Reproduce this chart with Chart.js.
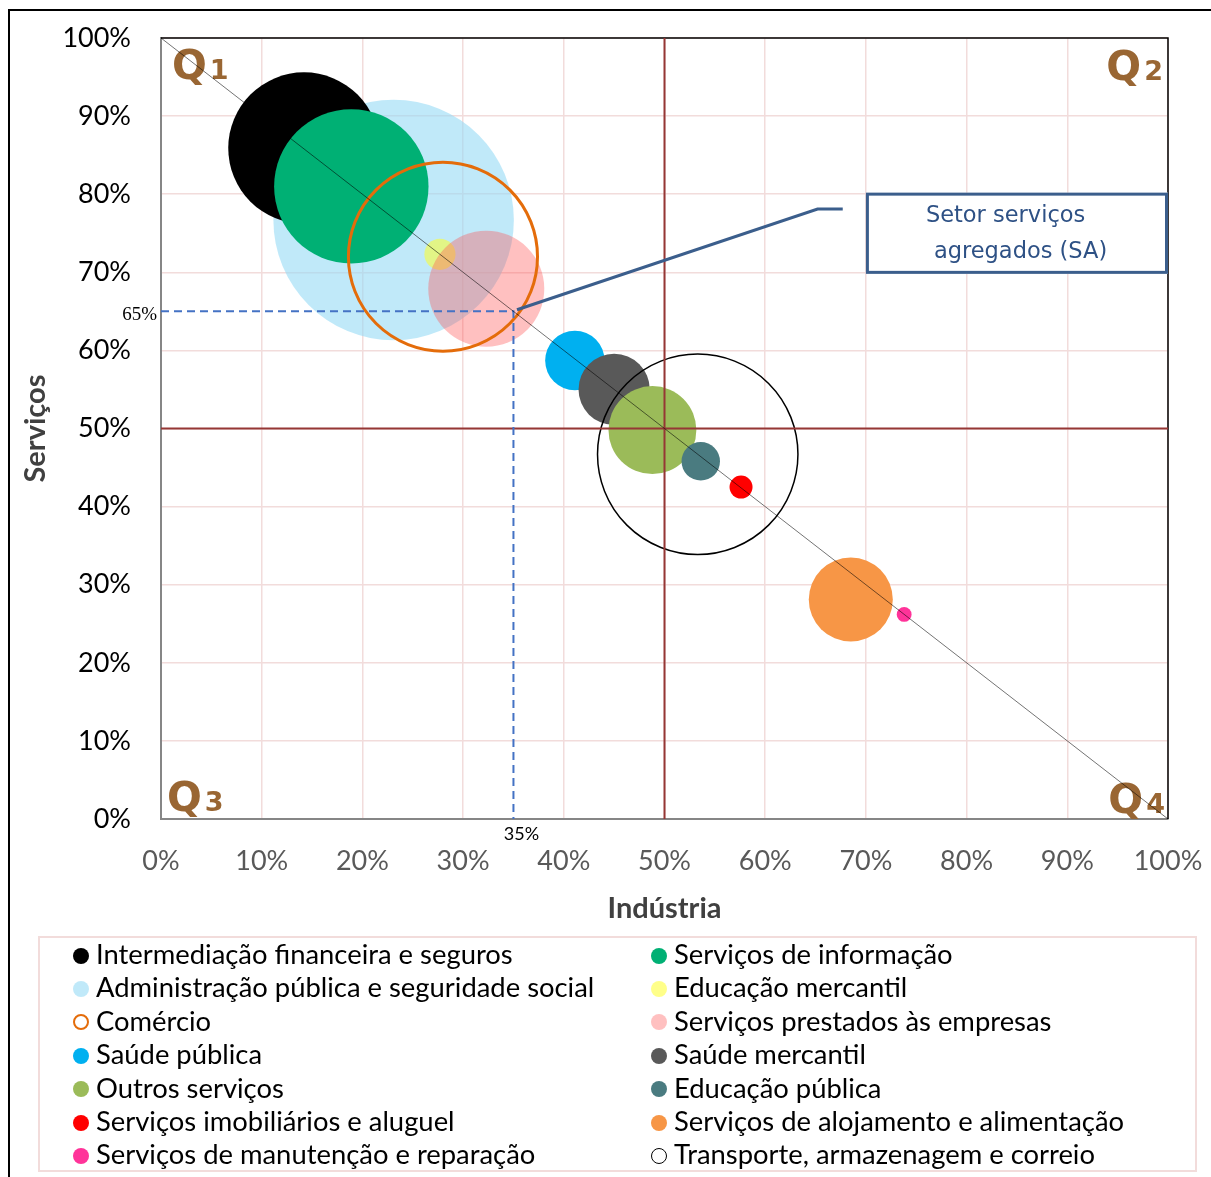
<!DOCTYPE html>
<html lang="pt-BR">
<head>
<meta charset="utf-8">
<title>Setores de serviços: Indústria x Serviços</title>
<script src="https://cdn.jsdelivr.net/npm/chart.js@4.4.1/dist/chart.umd.min.js"></script>
<style>
  html, body { margin: 0; padding: 0; background: #fff; }
  #quadro { position: relative; width: 1211px; height: 1177px; overflow: hidden; font-family: Lato, sans-serif; }
  #moldura { position: absolute; left: 8px; top: 9px; width: 1300px; height: 1300px; border-left: 2px solid #000; border-top: 2px solid #000; }
  #grafico { position: absolute; left: 0; top: 0; }
  #legenda { position: absolute; left: 38px; top: 936px; width: 1155px; height: 232px; border: 2px solid #f2dcdb; }
  .item { position: absolute; height: 30px; line-height: 30px; font-size: 27.4px; color: #000; white-space: nowrap; }
  .marca { display: inline-block; width: 16px; height: 16px; border-radius: 50%; vertical-align: middle; margin-right: 7px; margin-top: -3px; box-sizing: border-box; }
</style>
</head>
<body>
<div id="quadro">
  <div id="moldura"></div>
  <canvas id="grafico" width="1211" height="1177"></canvas>
  <div id="legenda"></div>
</div>
<script>
const setores = [
  'Intermediação financeira e seguros',
  'Serviços de informação',
  'Administração pública e seguridade social',
  'Educação mercantil',
  'Comércio',
  'Serviços prestados às empresas',
  'Saúde pública',
  'Saúde mercantil',
  'Outros serviços',
  'Educação pública',
  'Serviços imobiliários e aluguel',
  'Serviços de alojamento e alimentação',
  'Serviços de manutenção e reparação',
  'Transporte, armazenagem e correio'
];
// participação (%) de cada setor na indústria e nos serviços
const industria = [14.2, 18.9, 23.1, 27.7, 28.0, 32.3, 41.1, 45.0, 48.8, 53.6, 57.6, 68.5, 73.8, 53.3];
const servicos = [85.9, 81.0, 76.7, 72.3, 72.0, 67.9, 58.7, 55.0, 49.8, 45.8, 42.5, 28.1, 26.2, 46.7];
// tamanho da bolha (peso do setor, %)
const peso = [10.4, 10.8, 26.2, 0.44, 16.2, 6.1, 1.6, 2.3, 3.5, 0.67, 0.24, 3.2, 0.10, 18.2];

const eixoTicks = [0, 10, 20, 30, 40, 50, 60, 70, 80, 90, 100];
const diagonalX = [0, 100];
const diagonalY = [100, 0];
const divisaoVX = [50, 50];
const divisaoVY = [0, 100];
const divisaoHX = [0, 100];
const divisaoHY = [50, 50];
const guiaX = [0, 35, 35];
const guiaY = [65, 65, 0];
const saIndustria = 35;
const saServicos = 65;

const cores = ['#000000', '#00B074', 'rgba(150,218,245,0.6)', 'rgba(255,255,40,0.55)', 'rgba(255,255,255,0)',
  'rgba(255,80,80,0.36)', '#00B0F0', '#595959', '#9BBB59', '#4A7B80', '#FF0000', '#F79646', '#FF3399', 'rgba(255,255,255,0)'];
const contornos = [null, null, null, null, '#E46C0A', null, null, null, null, null, null, null, null, '#000000'];
const espessuras = [0, 0, 0, 0, 3, 0, 0, 0, 0, 0, 0, 0, 0, 1.5];
// camada de desenho (maior = por cima)
const camadas = [2, 3, 1, 4, 6, 5, 7, 8, 9, 10, 11, 12, 13, 14];

const PX_POR_RAIZ = 23.49;
const FONTE = 'Lato, sans-serif';

const pontos = (xs, ys) => xs.map((x, i) => ({ x, y: ys[i] }));

const bolhas = setores.map((nome, i) => ({
  label: nome,
  data: [{ x: industria[i], y: servicos[i], r: Math.sqrt(peso[i]) * PX_POR_RAIZ }],
  backgroundColor: cores[i],
  borderColor: contornos[i] || cores[i],
  borderWidth: espessuras[i],
  order: 100 - camadas[i]
}));

function linha(label, xs, ys, cor, largura, ordem, tracejado) {
  return {
    type: 'line', label, data: pontos(xs, ys),
    borderColor: cor, borderWidth: largura, borderDash: tracejado || [],
    pointRadius: 0, fill: false, tension: 0, order: ordem
  };
}

const anotacoes = {
  id: 'anotacoes',
  beforeDatasetsDraw(chart) {
    const { ctx, chartArea: a } = chart;
    ctx.save();
    // moldura superior e direita da área do gráfico
    ctx.strokeStyle = '#000';
    ctx.lineWidth = 1.5;
    ctx.beginPath();
    ctx.moveTo(a.left, a.top);
    ctx.lineTo(a.right, a.top);
    ctx.lineTo(a.right, a.bottom);
    ctx.stroke();

    // rótulos dos quadrantes
    const desenhaQ = (num, x, base, direita) => {
      ctx.font = 'bold 41px "DejaVu Sans"';
      const wq = ctx.measureText('Q').width;
      ctx.font = 'bold 27px "DejaVu Sans"';
      const wn = ctx.measureText(num).width;
      const x0 = direita ? x - wn - 3 - wq : x;
      ctx.fillStyle = '#996633';
      ctx.textBaseline = 'alphabetic';
      ctx.textAlign = 'left';
      ctx.font = 'bold 41px "DejaVu Sans"';
      ctx.fillText('Q', x0, base);
      ctx.font = 'bold 27px "DejaVu Sans"';
      ctx.fillText(num, x0 + wq + 3, base);
    };
    desenhaQ('1', a.left + 11, a.top + 41, false);
    desenhaQ('2', a.right - 5, a.top + 42, true);
    desenhaQ('3', a.left + 6, a.bottom - 8, false);
    desenhaQ('4', a.right - 3, a.bottom - 6, true);
    ctx.restore();
  },
  afterDatasetsDraw(chart) {
    const { ctx, chartArea: a, scales: { x, y } } = chart;
    ctx.save();
    // rótulos 65% e 35%
    ctx.fillStyle = '#000';
    ctx.font = '19px "Liberation Serif"';
    ctx.textAlign = 'right';
    ctx.textBaseline = 'middle';
    ctx.fillText(saServicos + '%', a.left - 4, y.getPixelForValue(saServicos) + 3.5);
    ctx.font = '18px ' + FONTE;
    ctx.textAlign = 'center';
    ctx.fillText(saIndustria + '%', x.getPixelForValue(saIndustria) + 8, a.bottom + 15.5);

    // chamada "Setor serviços agregados (SA)"
    const azul = '#3B5E8C';
    ctx.strokeStyle = azul;
    ctx.lineWidth = 3;
    ctx.lineJoin = 'miter';
    ctx.beginPath();
    ctx.moveTo(x.getPixelForValue(67.7), y.getPixelForValue(78.1));
    ctx.lineTo(x.getPixelForValue(65.2), y.getPixelForValue(78.1));
    ctx.lineTo(x.getPixelForValue(saIndustria + 0.35), y.getPixelForValue(saServicos + 0.2));
    ctx.stroke();

    const bx0 = x.getPixelForValue(70), bx1 = x.getPixelForValue(100);
    const by0 = y.getPixelForValue(80.2), by1 = y.getPixelForValue(69.8);
    ctx.fillStyle = '#fff';
    ctx.fillRect(bx0, by0, bx1 - bx0, by1 - by0);
    ctx.strokeRect(bx0 + 1.5, by0 + 1.5, bx1 - bx0 - 3, by1 - by0 - 3);
    ctx.fillStyle = '#2E5185';
    ctx.font = '22.5px "DejaVu Sans"';
    ctx.textAlign = 'left';
    ctx.textBaseline = 'alphabetic';
    ctx.fillText('Setor serviços', bx0 + 60, by0 + 29.5);
    ctx.fillText('agregados (SA)', bx0 + 68, by0 + 65);
    ctx.restore();
  }
};

new Chart(document.getElementById('grafico'), {
  type: 'bubble',
  data: {
    datasets: [
      linha('Diagonal', diagonalX, diagonalY, 'rgba(0,0,0,0.55)', 1, 0),
      linha('Guia SA', guiaX, guiaY, '#4472C4', 2, 1, [8, 5]),
      linha('Divisão vertical', divisaoVX, divisaoVY, '#953735', 2, 2),
      linha('Divisão horizontal', divisaoHX, divisaoHY, '#953735', 2, 2),
      ...bolhas
    ]
  },
  options: {
    responsive: false,
    devicePixelRatio: 1,
    animation: false,
    events: [],
    layout: { autoPadding: false, padding: { left: 0, top: 38, right: 43, bottom: 248 } },
    plugins: { legend: { display: false }, tooltip: { enabled: false } },
    scales: {
      x: {
        type: 'linear', min: 0, max: 100,
        afterFit(scale) { scale.height = 110; scale.paddingLeft = 0; scale.paddingRight = 0; },
        afterBuildTicks(scale) { scale.ticks = eixoTicks.map(v => ({ value: v })); },
        ticks: { callback: v => v + '%', color: '#595959', padding: 26, maxRotation: 0, autoSkip: false,
          font: { family: FONTE, size: 27 } },
        grid: { color: '#F2DCDB', lineWidth: 1.5, drawTicks: false },
        border: { color: '#868686', width: 2 },
        title: { display: true, text: 'Indústria', color: '#404040', padding: { top: 0, bottom: 3 },
          font: { family: FONTE, size: 29, weight: 'bold' } }
      },
      y: {
        type: 'linear', min: 0, max: 100,
        afterFit(scale) { scale.width = 161; scale.paddingTop = 0; scale.paddingBottom = 0; },
        afterBuildTicks(scale) { scale.ticks = eixoTicks.map(v => ({ value: v })); },
        ticks: { callback: v => v + '%', color: '#000', padding: 30, font: { family: FONTE, size: 27 } },
        grid: { color: '#F2DCDB', lineWidth: 1.5, drawTicks: false },
        border: { color: '#868686', width: 2 },
        title: { display: true, text: 'Serviços', color: '#404040', padding: { top: 18, bottom: 0 },
          font: { family: FONTE, size: 29, weight: 'bold' } }
      }
    }
  },
  plugins: [anotacoes]
});

// legenda em duas colunas
const legenda = document.getElementById('legenda');
setores.forEach((nome, i) => {
  const item = document.createElement('div');
  item.className = 'item';
  item.style.left = (i % 2 === 0 ? 33 : 611) + 'px';
  item.style.top = (1 + Math.floor(i / 2) * 33.4) + 'px';
  const marca = document.createElement('span');
  marca.className = 'marca';
  if (contornos[i]) {
    marca.style.border = (contornos[i] === '#000000' ? 1.5 : 2.5) + 'px solid ' + contornos[i];
    marca.style.background = '#fff';
  } else {
    marca.style.background = cores[i];
  }
  item.appendChild(marca);
  item.appendChild(document.createTextNode(nome));
  legenda.appendChild(item);
});
</script>
</body>
</html>
